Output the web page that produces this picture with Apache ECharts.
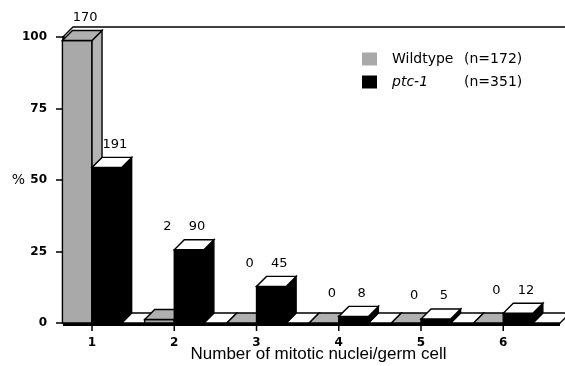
<!DOCTYPE html>
<html>
<head>
<meta charset="utf-8">
<script src="https://cdn.jsdelivr.net/npm/echarts@6/dist/echarts.min.js"></script>
<style>html,body{margin:0;padding:0;background:#fff}#c{width:565px;height:366px}</style>
</head>
<body>
<div id="c"></div>
<script>
// ---- data ----
const categories = ['1', '2', '3', '4', '5', '6'];
const catPos = [1, 2, 3, 4, 5, 6];
const wildPct = [98.8, 1.2, 0, 0, 0, 0];
const ptcPct = [54.4, 25.6, 12.8, 2.3, 1.4, 3.4];
const wildCounts = [170, 2, 0, 0, 0, 0];
const ptcCounts = [191, 90, 45, 8, 5, 12];
const groupNames = ['Wildtype', 'ptc-1'];
const groupN = [172, 351];
const yTicks = [0, 25, 50, 75, 100];

// ---- layout / style ----
const X_MIN = 0.647, X_MAX = 6.69;
const DEPTH = 10;
const BAR_FRAC = 0.36;
const FONT = 'DejaVu Sans';
const GREY = '#a9a9a9';

const chart = echarts.init(document.getElementById('c'), null, {renderer: 'canvas'});

function barGroup(api, which) {
  const x = api.value(0), v = api.value(1), cnt = api.value(2), idx = api.value(3);
  const base = api.coord([x, 0]);
  const top = api.coord([x, v]);
  const unit = api.size([1, 0])[0];
  const w = unit * BAR_FRAC;
  const x0 = which === 0 ? base[0] - w : base[0];
  const x1 = x0 + w;
  const yb = base[1], yt = top[1];
  const d = DEPTH;
  const isW = which === 0;
  const stroke = {stroke: '#000', lineWidth: 1.4, lineJoin: 'miter'};
  const children = [];
  if (yb - yt > 0.5) {
    children.push({type: 'rect', shape: {x: x0, y: yt, width: w, height: yb - yt},
      style: Object.assign({fill: isW ? GREY : '#000'}, stroke)});
    children.push({type: 'polygon', shape: {points: [[x1, yt], [x1 + d, yt - d], [x1 + d, yb - d], [x1, yb]]},
      style: Object.assign({fill: isW ? '#b4b4b4' : '#000'}, stroke)});
  }
  children.push({type: 'polygon', shape: {points: [[x0, yt], [x1, yt], [x1 + d, yt - d], [x0 + d, yt - d]]},
    style: Object.assign({fill: isW ? '#b0b0b0' : '#fff'}, stroke)});
  const level = idx === 0 ? v : Math.max(wildPct[idx], ptcPct[idx]);
  const ly = api.coord([x, level])[1] - d - 13;
  children.push({type: 'text', style: {text: String(cnt), x: (x0 + x1) / 2 + 8, y: ly,
    align: 'center', verticalAlign: 'middle', fill: '#000', font: '13px "' + FONT + '"'}});
  return {type: 'group', children: children};
}

function frame(params, api) {
  const d = DEPTH;
  const l0 = api.coord([X_MIN, 0]);
  const r0 = api.coord([X_MAX, 0]);
  const l100 = api.coord([X_MIN, 100]);
  const r100 = api.coord([X_MAX, 100]);
  const unit = api.size([1, 0])[0];
  const w = unit * BAR_FRAC;
  const children = [];
  // category ticks below the floor
  catPos.forEach(function (c) {
    const p = api.coord([c, 0]);
    children.push({type: 'line', shape: {x1: p[0], y1: p[1], x2: p[0], y2: p[1] + 8},
      style: {stroke: '#000', lineWidth: 1.5}});
  });
  // floor front edge
  children.push({type: 'rect', shape: {x: l0[0], y: l0[1], width: r0[0] - l0[0], height: 3}, style: {fill: '#000'}});
  // floor tiles between groups
  catPos.forEach(function (c, i) {
    const px = api.coord([c, 0])[0];
    const a = px + w;
    const b = i < catPos.length - 1 ? api.coord([catPos[i + 1], 0])[0] - w : r0[0];
    const y = l0[1];
    children.push({type: 'polygon', shape: {points: [[a, y], [b, y], [b + d, y - d], [a + d, y - d]]},
      style: {fill: '#fff', stroke: '#000', lineWidth: 1.4}});
  });
  // back top line
  children.push({type: 'polyline', shape: {points: [[l100[0], l100[1]], [l100[0] + d, l100[1] - d], [r100[0] + d + 10, r100[1] - d]]},
    style: {fill: null, stroke: '#000', lineWidth: 1.4}});
  return {type: 'group', children: children};
}

const option = {
  backgroundColor: '#fff',
  animation: false,
  grid: {left: 63, right: 5, top: 37, bottom: 43, containLabel: false, outerBoundsMode: 'none'},
  legend: {
    orient: 'vertical', left: 362, top: 52, padding: 0, itemWidth: 15, itemHeight: 13, itemGap: 9,
    icon: 'rect', selectedMode: false,
    data: groupNames,
    formatter: function (name) {
      const i = groupNames.indexOf(name);
      return (i === 0 ? '{a|' + name + '}' : '{i|' + name + '}') + '{b|(n=' + groupN[i] + ')}';
    },
    textStyle: {
      color: '#000', fontFamily: FONT, fontSize: 14,
      rich: {
        a: {fontFamily: FONT, fontSize: 14, width: 72, padding: [0, 0, 0, 10], lineHeight: 16},
        i: {fontFamily: FONT, fontSize: 14, fontStyle: 'italic', width: 72, padding: [0, 0, 0, 10], lineHeight: 16},
        b: {fontFamily: FONT, fontSize: 14, lineHeight: 16}
      }
    }
  },
  xAxis: {
    type: 'value', min: X_MIN, max: X_MAX,
    name: 'Number of mitotic nuclei/germ cell', nameLocation: 'middle', nameGap: 23, nameMoveOverlap: false,
    nameTextStyle: {color: '#000', fontFamily: 'Liberation Sans', fontSize: 17, padding: [0, 0, 0, 14]},
    axisLine: {show: true, lineStyle: {color: '#000', width: 1}},
    splitLine: {show: false},
    axisTick: {show: false},
    axisLabel: {
      customValues: catPos, margin: 14, color: '#000', fontFamily: FONT, fontSize: 12, fontWeight: 'bold',
      formatter: function (v) { return categories[catPos.indexOf(v)]; }
    }
  },
  yAxis: {
    type: 'value', min: yTicks[0], max: yTicks[yTicks.length - 1], interval: 25,
    name: '%', nameLocation: 'middle', nameRotate: 0, nameGap: 38, nameMoveOverlap: false,
    nameTextStyle: {color: '#000', fontFamily: FONT, fontSize: 14},
    axisLine: {show: true, lineStyle: {color: '#000', width: 2.5}},
    axisTick: {show: true, length: 7, lineStyle: {color: '#000', width: 1.5}},
    splitLine: {show: false},
    axisLabel: {margin: 16, color: '#000', fontFamily: FONT, fontSize: 12, fontWeight: 'bold'}
  },
  series: [
    {type: 'custom', name: 'frame', z: 1, silent: true, renderItem: frame, data: [[X_MIN, 0]]},
    {type: 'custom', name: groupNames[0], z: 2, itemStyle: {color: GREY},
      renderItem: function (p, api) { return barGroup(api, 0); },
      encode: {x: 0, y: 1},
      data: catPos.map(function (c, i) { return [c, wildPct[i], wildCounts[i], i]; })},
    {type: 'custom', name: groupNames[1], z: 3, itemStyle: {color: '#000'},
      renderItem: function (p, api) { return barGroup(api, 1); },
      encode: {x: 0, y: 1},
      data: catPos.map(function (c, i) { return [c, ptcPct[i], ptcCounts[i], i]; })}
  ]
};
chart.setOption(option);
</script>
</body>
</html>
